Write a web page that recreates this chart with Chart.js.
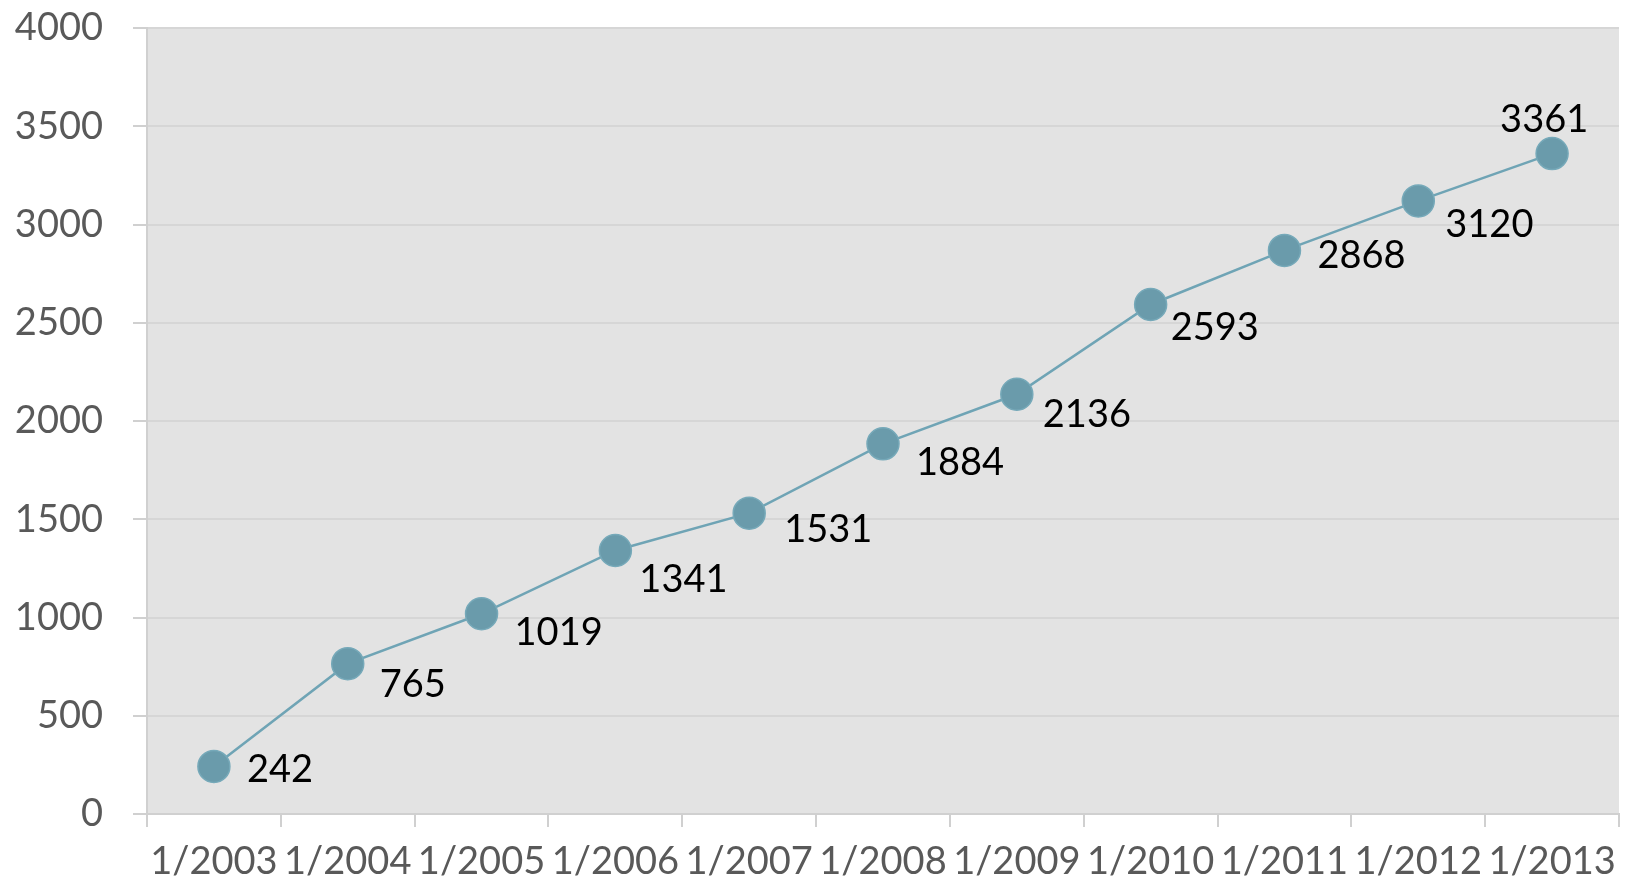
<!DOCTYPE html>
<html>
<head>
<meta charset="utf-8">
<script src="https://cdn.jsdelivr.net/npm/chart.js@4.4.1/dist/chart.umd.min.js"></script>
<style>
  html, body { margin: 0; padding: 0; background: #ffffff; }
  #wrap { width: 1629px; height: 881px; }
</style>
</head>
<body>
<div id="wrap"><canvas id="c" width="1629" height="881"></canvas></div>
<script>
const categories = ['1/2003','1/2004','1/2005','1/2006','1/2007','1/2008','1/2009','1/2010','1/2011','1/2012','1/2013'];
const values = [242, 765, 1019, 1341, 1531, 1884, 2136, 2593, 2868, 3120, 3361];
const yTicks = [0, 500, 1000, 1500, 2000, 2500, 3000, 3500, 4000];
// label placement relative to each point (ink left edge dx, ink centre dy)
const labelDx = [34, 34, 36, 27, 38, 36, 27, 21, 34, 28, -51];
const labelDy = [2, 19, 17, 28, 15, 17, 19, 22, 4, 22, -36];

const FONT = "Lato, 'Liberation Sans', sans-serif";

const plotBg = {
  id: 'plotBg',
  beforeDraw(chart) {
    const {ctx, chartArea: a} = chart;
    ctx.save();
    ctx.fillStyle = '#e3e3e3';
    ctx.fillRect(a.left, a.top, a.right - a.left, a.bottom - a.top);
    ctx.restore();
  }
};

const valueLabels = {
  id: 'valueLabels',
  afterDatasetsDraw(chart) {
    const ctx = chart.ctx;
    const meta = chart.getDatasetMeta(0);
    ctx.save();
    ctx.font = '400 38px ' + FONT;
    ctx.fillStyle = '#000000';
    ctx.textAlign = 'left';
    ctx.textBaseline = 'alphabetic';
    meta.data.forEach((pt, i) => {
      const txt = String(values[i]);
      const m = ctx.measureText(txt);
      const x = pt.x + labelDx[i] + m.actualBoundingBoxLeft;
      const inkH = m.actualBoundingBoxAscent + m.actualBoundingBoxDescent;
      const y = pt.y + labelDy[i] - inkH / 2 + m.actualBoundingBoxAscent;
      ctx.fillText(txt, x, y);
    });
    ctx.restore();
  }
};

new Chart(document.getElementById('c'), {
  type: 'line',
  data: {
    labels: categories,
    datasets: [{
      data: values,
      borderColor: '#6fa4b5',
      borderWidth: 2.5,
      pointRadius: 16,
      pointHoverRadius: 16,
      pointBackgroundColor: '#6a9bab',
      pointBorderColor: '#76a9b9',
      pointBorderWidth: 1.5,
      tension: 0,
      clip: false
    }]
  },
  options: {
    responsive: false,
    animation: false,
    events: [],
    layout: { autoPadding: false, padding: { top: 28, right: 10, left: 0, bottom: 0 } },
    plugins: { legend: { display: false }, tooltip: { enabled: false } },
    scales: {
      x: {
        type: 'category',
        offset: true,
        grid: {
          offset: true,
          drawOnChartArea: false,
          drawTicks: true,
          tickLength: 13,
          color: '#d0d0d0',
          lineWidth: 2
        },
        border: { display: true, color: '#d0d0d0', width: 2 },
        ticks: {
          autoSkip: false,
          maxRotation: 0,
          minRotation: 0,
          padding: 12,
          color: '#595959',
          font: { family: FONT, size: 38, weight: 400 }
        },
        afterFit(scale) {
          scale.height = 67;
          scale.paddingLeft = 0; scale.paddingRight = 0;
          scale.paddingTop = 0; scale.paddingBottom = 0;
        }
      },
      y: {
        min: 0,
        max: 4000,
        afterBuildTicks(scale) { scale.ticks = yTicks.map(v => ({ value: v })); },
        grid: {
          color: '#d6d6d6',
          lineWidth: 2,
          drawTicks: true,
          tickLength: 14,
          tickColor: '#d0d0d0'
        },
        border: { display: true, color: '#d0d0d0', width: 2 },
        ticks: {
          padding: 30,
          color: '#595959',
          font: { family: FONT, size: 38, weight: 400 },
          callback: (v) => String(v)
        },
        afterFit(scale) {
          scale.width = 147;
          scale.paddingTop = 0; scale.paddingBottom = 0;
          scale.paddingLeft = 0; scale.paddingRight = 0;
        }
      }
    }
  },
  plugins: [plotBg, valueLabels]
});
</script>
</body>
</html>
